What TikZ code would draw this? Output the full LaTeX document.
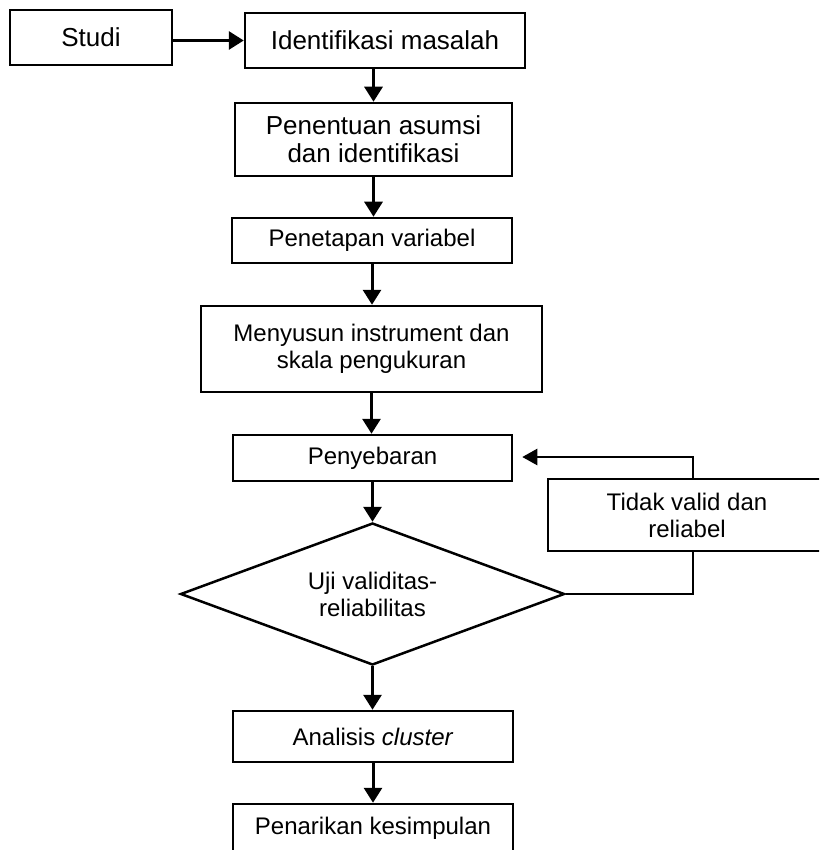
\documentclass[tikz,border=0pt]{standalone}
\usepackage{fontspec}
\setmainfont{Liberation Sans}
\usetikzlibrary{arrows.meta,shapes.geometric}
\begin{document}
\begin{tikzpicture}[x=1pt,y=-1pt,
  box/.style={draw,line width=2.5pt,fill=white,inner sep=0pt,align=center,
    font=\fontsize{24pt}{27pt}\selectfont},
  bigbox/.style={box,font=\fontsize{26pt}{28pt}\selectfont},
  decision/.style={diamond,aspect=2.7,draw,line width=2.5pt,fill=white,inner sep=0pt,align=center,
    minimum width=384pt,minimum height=142pt,font=\fontsize{24pt}{27pt}\selectfont},
  arr/.style={line width=3pt,-{Triangle[length=15pt,width=18pt]}},
  fbarr/.style={line width=2.4pt,-{Triangle[length=15pt,width=16pt]}},
  conn/.style={line width=2.4pt}]
\useasboundingbox (0,0) rectangle (819,850);
\clip (0,0) rectangle (819,850);
\fill[white] (0,0) rectangle (819,850);

\node[bigbox,minimum width=162pt,minimum height=55pt] (studi) at (91,37.5) {Studi};
\node[bigbox,minimum width=280pt,minimum height=55pt] (ident) at (385,40.5) {Identifikasi masalah};
\node[bigbox,minimum width=277pt,minimum height=73pt] (penentuan) at (373.5,139.5) {Penentuan asumsi\\dan identifikasi};
\node[box,minimum width=280pt,minimum height=45pt] (penetapan) at (372,240.5) {Penetapan variabel};
\node[box,minimum width=341pt,minimum height=86pt] (menyusun) at (371.5,349) {Menyusun instrument dan\\skala pengukuran};
\node[box,minimum width=279pt,minimum height=46pt] (peny) at (372.5,458) {Penyebaran};
\node[decision] (uji) at (372.5,594) {Uji validitas-\\reliabilitas};
\node[box,minimum width=278pt,minimum height=72pt] (tidak) at (687,515) {Tidak valid dan\\reliabel};
\node[box,minimum width=280pt,minimum height=51pt] (analisis) at (373,736.5) {Analisis \textit{cluster}};
\node[box,minimum width=280pt,minimum height=48pt] (penarikan) at (373,828) {Penarikan kesimpulan};

\coordinate (fb) at (693,457);

\draw[arr] (studi.east |- ident.west) -- (ident.west);
\draw[arr] (ident.south -| penentuan.north) -- (penentuan.north);
\draw[arr] (penentuan.south) -- (penentuan.south |- penetapan.north);
\draw[arr] (penetapan.south) -- (penetapan.south |- menyusun.north);
\draw[arr] (menyusun.south) -- (menyusun.south |- peny.north);
\draw[arr] (peny.south) -- (peny.south |- uji.north);
\draw[arr] (uji.south) -- (uji.south |- analisis.north);
\draw[arr] (analisis.south) -- (analisis.south |- penarikan.north);
\draw[conn] (uji.east) -| (tidak.south -| fb);
\draw[fbarr,shorten >=9pt] (tidak.north -| fb) |- (peny.east |- fb);
\end{tikzpicture}
\end{document}
